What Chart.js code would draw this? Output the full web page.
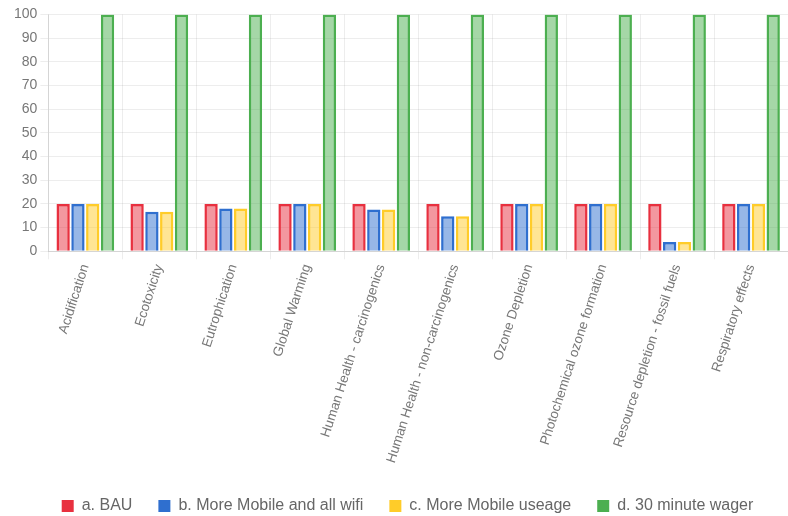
<!DOCTYPE html>
<html>
<head>
<meta charset="utf-8">
<script src="https://cdn.jsdelivr.net/npm/chart.js@4"></script>
<style>
html,body{margin:0;padding:0;background:#fff;}
#wrap{width:788px;height:516px;position:relative;}
</style>
</head>
<body>
<div id="wrap"><canvas id="c"></canvas></div>
<script>
const categories = ["Acidification","Ecotoxicity","Eutrophication","Global Warming","Human Health - carcinogenics","Human Health - non-carcinogenics","Ozone Depletion","Photochemical ozone formation","Resource depletion - fossil fuels","Respiratory effects"];
const seriesNames = ["a. BAU","b. More Mobile and all wifi","c. More Mobile useage","d. 30 minute wager"];
const bau = [20,20,20,20,20,20,20,20,20,20];
const mobileWifi = [20,16.7,18.1,20,17.7,14.8,20,20,3.9,20];
const mobileUse = [20,16.7,18.1,20,17.7,14.8,20,20,3.9,20];
const wager = [100,100,100,100,100,100,100,100,100,100];
const yTicks = [0,10,20,30,40,50,60,70,80,90,100];

const borderColors = ["#e8303f","#2f6fcf","#ffcc29","#4caf50"];
const fillColors = ["rgba(232,48,63,0.5)","rgba(47,111,207,0.5)","rgba(255,204,41,0.5)","rgba(76,175,80,0.5)"];
const values = [bau, mobileWifi, mobileUse, wager];

const font = "'Liberation Sans', Arial, sans-serif";
const legendShift = {
  id: 'legendShift',
  afterLayout(chart) {
    const l = chart.legend;
    if (l) { l.left += 8; l.right += 8; l.top += 4; l.bottom += 4; }
  }
};
new Chart(document.getElementById('c'), {
  type: 'bar',
  data: {
    labels: categories,
    datasets: seriesNames.map((n,i)=>({
      label: n, data: values[i],
      backgroundColor: fillColors[i], borderColor: borderColors[i], borderWidth: 2.5
    }))
  },
  plugins: [legendShift],
  options: {
    responsive: true, maintainAspectRatio: false, animation: false,
    layout: {padding: {top: 14.5, right: 0, left: 11, bottom: -4}},
    plugins: {
      tooltip: {enabled: false},
      legend: {
        position: 'bottom',
        labels: {
          boxWidth: 12, boxHeight: 12, padding: 26, color: '#666',
          font: {family: font, size: 16},
          generateLabels: (chart) => chart.data.datasets.map((d,i)=>({
            text: d.label, fillStyle: borderColors[i], strokeStyle: borderColors[i],
            lineWidth: 0, datasetIndex: i, fontColor: '#666'
          }))
        }
      }
    },
    scales: {
      x: {
        grid: {color: 'rgba(0,0,0,0.07)', offset: true},
        ticks: {minRotation: 72, maxRotation: 72, color: '#777', font: {family: font, size: 13.5}, autoSkip: false}
      },
      y: {
        min: 0, max: 100,
        afterBuildTicks: (s)=>{ s.ticks = yTicks.map(v=>({value:v})); },
        grid: {color: 'rgba(0,0,0,0.07)'},
        ticks: {color: '#777', font: {family: font, size: 14}}
      }
    }
  }
});
</script>
</body>
</html>
